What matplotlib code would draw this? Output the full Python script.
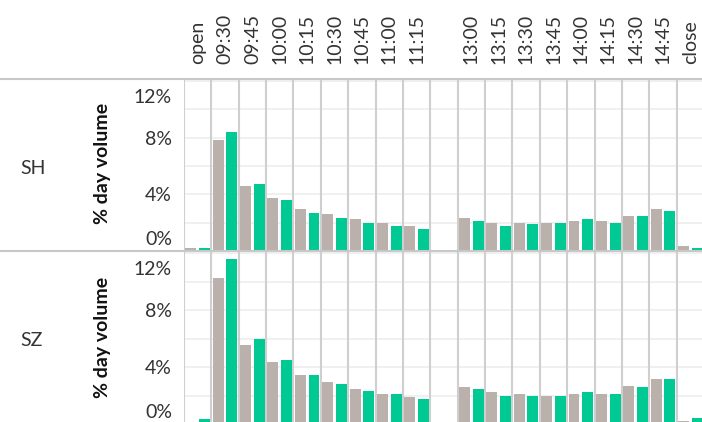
import numpy as np
import matplotlib.pyplot as plt
from matplotlib.lines import Line2D
from matplotlib.transforms import ScaledTranslation

# 15-minute buckets; "" is the lunch break column (no bars, no label)
PERIODS = ["open", "09:30", "09:45", "10:00", "10:15", "10:30", "10:45",
           "11:00", "11:15", "", "13:00", "13:15", "13:30", "13:45",
           "14:00", "14:15", "14:30", "14:45", "close"]

NA = np.nan
SH_GRAY  = [0.21, 7.86, 4.57, 3.71, 3.00, 2.64, 2.29, 2.00, 1.79, NA,
            2.36, 2.00, 2.00, 2.00, 2.14, 2.14, 2.50, 3.00, 0.36]
SH_GREEN = [0.21, 8.43, 4.71, 3.57, 2.71, 2.36, 2.00, 1.79, 1.57, NA,
            2.14, 1.79, 1.93, 2.00, 2.29, 2.00, 2.50, 2.86, 0.21]
SZ_GRAY  = [0.00, 10.25, 5.58, 4.38, 3.46, 2.97, 2.47, 2.12, 1.91, NA,
            2.61, 2.26, 2.12, 1.98, 2.12, 2.12, 2.69, 3.18, 0.20]
SZ_GREEN = [0.35, 11.59, 5.94, 4.52, 3.46, 2.83, 2.33, 2.12, 1.77, NA,
            2.47, 1.98, 1.98, 1.98, 2.26, 2.12, 2.61, 3.18, 0.42]

ROWS = [("SH", SH_GRAY, SH_GREEN), ("SZ", SZ_GRAY, SZ_GREEN)]
YTICKS = [0, 4, 8, 12]

GRAY  = "#bab0ac"
GREEN = "#00c994"
SEP   = "#cfcfcf"
GRID  = "#efefef"
INK   = "#333333"

plt.rcParams.update({
    "font.family": ["Lato", "DejaVu Sans"],
    "font.size": 14,
})

W, H = 702, 422
fig = plt.figure(figsize=(W / 100, H / 100), dpi=100)


def fbox(x0, y0, x1, y1):
    return [x0 / W, 1 - y1 / H, (x1 - x0) / W, (y1 - y0) / H]


panes = [fbox(184, 79, 704, 251), fbox(184, 251, 704, 424)]
n = len(PERIODS)
xs = np.arange(n) * 2

axes = []
for (name, gray, green), box in zip(ROWS, panes):
    ax = fig.add_axes(box)
    axes.append(ax)
    g = np.array(gray, dtype=float)
    c = np.array(green, dtype=float)
    ok = ~np.isnan(g)
    ax.bar(xs[ok] + 0.5, g[ok], width=0.8, color=GRAY, zorder=3)
    ax.bar(xs[ok] + 1.5, c[ok], width=0.8, color=GREEN, zorder=3)

    for yv in range(2, 13, 2):
        ax.axhline(yv, color=GRID, lw=1.3, zorder=0)
    for xv in range(0, 2 * n + 1, 2):
        ax.axvline(xv, color=SEP, lw=1.5, zorder=1)

    ax.set_xlim(0, 2 * n)
    ax.set_ylim(0, 12.15)
    for s in ax.spines.values():
        s.set_visible(False)

    ax.set_yticks(YTICKS)
    ax.set_yticklabels([f"{t}%" for t in YTICKS], color=INK)
    ax.tick_params(axis="y", length=0, pad=8.6, labelsize=14)
    labels = ax.get_yticklabels()
    labels[0].set_transform(labels[0].get_transform()
                            + ScaledTranslation(0, 0.13, fig.dpi_scale_trans))
    labels[-1].set_transform(labels[-1].get_transform()
                             + ScaledTranslation(0, -0.15, fig.dpi_scale_trans))

    if name == "SH":
        keep = [i for i, p in enumerate(PERIODS) if p]
        ax.xaxis.tick_top()
        ax.set_xticks(xs[keep] + 1.0)
        ax.set_xticklabels([PERIODS[i] for i in keep], rotation=90, color=INK)
        ax.tick_params(axis="x", length=0, pad=10.5, labelsize=14)
    else:
        ax.set_xticks([])

# row headers and axis titles
fig.text(20 / W, 1 - 168 / H, "SH", ha="left", va="center", fontsize=14, color=INK)
fig.text(20 / W, 1 - 341 / H, "SZ", ha="left", va="center", fontsize=14, color=INK)
for yc in (163, 337):
    fig.text(103 / W, 1 - yc / H, "% day volume", rotation=90, ha="center",
             va="center", fontsize=14, fontweight="bold", color="#111111")

# full-width borders between header and panes
for yp in (79, 251):
    fig.add_artist(Line2D([0, 1], [1 - yp / H] * 2, transform=fig.transFigure,
                          color="#c8c8c8", lw=1.5, zorder=5))

fig.savefig("out.png", dpi=100)
